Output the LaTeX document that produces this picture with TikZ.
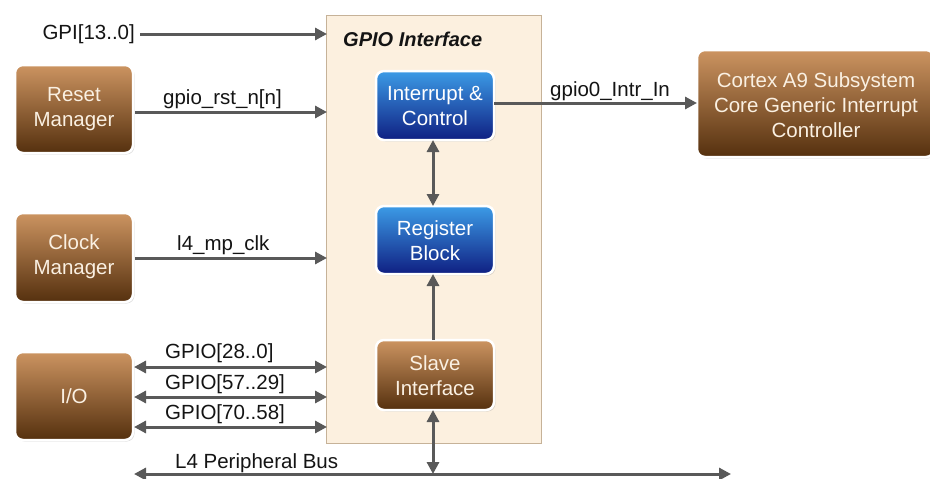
\documentclass[tikz,border=0pt]{standalone}
\usepackage{fontspec}
\setmainfont{Liberation Sans}
\usetikzlibrary{arrows.meta,shadows}
\definecolor{brtop}{HTML}{CC9461}
\definecolor{brbot}{HTML}{55300E}
\definecolor{bltop}{HTML}{3C9BE6}
\definecolor{blbot}{HTML}{0F1F82}
\definecolor{arr}{HTML}{595959}
\definecolor{frame}{HTML}{FCF0DF}
\definecolor{frameline}{HTML}{C6B298}
\definecolor{cream}{HTML}{FAF0E2}
\tikzset{
  blk/.style={rounded corners=8pt, draw=white, line width=2.5pt,
    drop shadow={opacity=0.25, shadow xshift=1.5pt, shadow yshift=-1.5pt}},
  brown/.style={blk, top color=brtop, bottom color=brbot},
  blue/.style={blk, top color=bltop, bottom color=blbot},
  txt/.style={font=\fontsize{20.5}{25}\selectfont, align=center, inner sep=0pt},
  lbl/.style={font=\fontsize{20.5}{25}\selectfont, inner sep=0pt, text=black!92},
  con/.style={draw=arr, line width=3pt, -{Triangle[length=12pt,width=12pt]}},
  bicon/.style={draw=arr, line width=3pt, {Triangle[length=12pt,width=12pt]}-{Triangle[length=12pt,width=12pt]}}
}
\begin{document}
\begin{tikzpicture}[x=1pt,y=-1pt]
\useasboundingbox[fill=white] (0,0) rectangle (930,479);
% GPIO frame
\draw[fill=frame, draw=frameline, line width=1pt] (326,15) rectangle (541,443);
\node[lbl, font=\fontsize{20}{24}\selectfont\bfseries\itshape, anchor=west] (title) at (343,39) {GPIO Interface};
% blocks
\path[brown] (15,65) rectangle (133,153);
\node[txt, text=cream] (reset) at (74,109) {Reset\\Manager};
\path[brown] (15,213) rectangle (133,302);
\node[txt, text=cream] (clock) at (74,257) {Clock\\Manager};
\path[brown] (15,352) rectangle (133,440);
\node[txt, text=cream] (io) at (74,396) {I/O};
\path[brown] (697,50) rectangle (934,157);
\node[txt, text=cream] (cortex) at (816,105) {Cortex A9 Subsystem\\Core Generic Interrupt\\Controller};
\path[blue] (376,71) rectangle (494,140);
\node[txt, text=white] (intr) at (435,106) {Interrupt \&\\Control};
\path[blue] (376,206) rectangle (494,274);
\node[txt, text=white] (reg) at (435,241) {Register\\Block};
\path[brown] (376,340) rectangle (494,410);
\node[txt, text=cream] (slave) at (435,376) {Slave\\Interface};
% anchors
\coordinate (resetE) at (135,112);
\coordinate (clockE) at (135,258);
\coordinate (ioE1) at (134,367);
\coordinate (ioE2) at (134,397);
\coordinate (ioE3) at (134,427);
\coordinate (fin1) at (327,34);
\coordinate (fin2) at (327,112);
\coordinate (fin3) at (327,258);
\coordinate (fin4) at (327,367);
\coordinate (fin5) at (327,397);
\coordinate (fin6) at (327,427);
\coordinate (busL) at (134,474);
\coordinate (busR) at (731,474);
\coordinate (busS) at (433,474);
\coordinate (slaveS) at (433,410);
\coordinate (slaveN) at (433,340);
\coordinate (regS) at (433,274);
\coordinate (regN) at (433,206);
\coordinate (intrS) at (433,140);
\coordinate (cortexW) at (697,103);
\coordinate (intrE) at (494,103);
% connectors and labels
\node[lbl, anchor=east] (gpi) at (135,34) {GPI[13..0]};
\draw[con] (gpi.east) ++(5,0) -- (fin1);
\draw[con] (resetE) -- (fin2);
\node[lbl, anchor=base west] (rstl) at (163,104) {gpio\_rst\_n[n]};
\draw[con] (clockE) -- (fin3);
\node[lbl, anchor=base west] (clkl) at (177,250) {l4\_mp\_clk};
\draw[bicon] (ioE1) -- (fin4);
\draw[bicon] (ioE2) -- (fin5);
\draw[bicon] (ioE3) -- (fin6);
\node[lbl, anchor=base west] (g1) at (165,358) {GPIO[28..0]};
\node[lbl, anchor=base west] (g2) at (165,389) {GPIO[57..29]};
\node[lbl, anchor=base west] (g3) at (165,419) {GPIO[70..58]};
\draw[bicon] (busL) -- (busR);
\node[lbl, anchor=base west] (bus) at (175,468) {L4 Peripheral Bus};
\draw[bicon] (slaveS) -- (busS);
\draw[con] (slaveN) -- (regS);
\draw[bicon] (intrS) -- (regN);
\draw[con] (intrE) -- (cortexW);
\node[lbl, anchor=base west] (intl) at (550,96) {gpio0\_Intr\_In};
\end{tikzpicture}
\end{document}
